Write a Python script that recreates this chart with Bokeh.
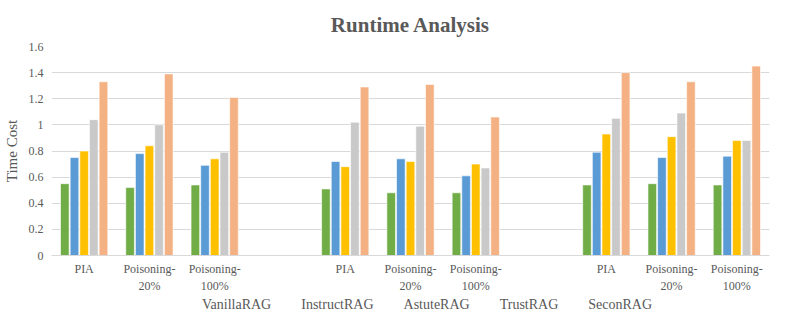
from bokeh.plotting import figure
from bokeh.models import (ColumnDataSource, FixedTicker, Legend, LegendItem, Range1d,
                          LinearAxis)
from bokeh.layouts import column
from bokeh.transform import dodge
from bokeh.embed import file_html
from bokeh.resources import INLINE

# categories (three groups of three, separated by an empty slot); two label lines each
cat_line1 = ["PIA", "Poisoning-", "Poisoning-",
             "PIA", "Poisoning-", "Poisoning-",
             "PIA", "Poisoning-", "Poisoning-"]
cat_line2 = ["", "20%", "100%", "", "20%", "100%", "", "20%", "100%"]
slots = [0, 1, 2, 4, 5, 6, 8, 9, 10]
n_slots = 11

series = ["VanillaRAG", "InstructRAG", "AstuteRAG", "TrustRAG", "SeconRAG"]
vanilla  = [0.55, 0.52, 0.54, 0.51, 0.48, 0.48, 0.54, 0.55, 0.54]
instruct = [0.75, 0.78, 0.69, 0.72, 0.74, 0.61, 0.79, 0.75, 0.76]
astute   = [0.80, 0.84, 0.74, 0.68, 0.72, 0.70, 0.93, 0.91, 0.88]
trust    = [1.04, 1.00, 0.79, 1.02, 0.99, 0.67, 1.05, 1.09, 0.88]
secon    = [1.33, 1.39, 1.21, 1.29, 1.31, 1.06, 1.40, 1.33, 1.45]
colors = ["#70AD47", "#5B9BD5", "#FFC000", "#C9C9C9", "#F4B183"]

y_ticks = [0, 0.2, 0.4, 0.6, 0.8, 1.0, 1.2, 1.4, 1.6]
y_labels = ["0", "0.2", "0.4", "0.6", "0.8", "1", "1.2", "1.4", "1.6"]

centers = [s + 0.5 for s in slots]
src = ColumnDataSource(dict(x=centers, VanillaRAG=vanilla, InstructRAG=instruct,
                            AstuteRAG=astute, TrustRAG=trust, SeconRAG=secon))

FONT = "Liberation Serif"
GREY = "#595959"

p = figure(width=781, height=295, output_backend="svg", toolbar_location=None,
           x_range=Range1d(0, n_slots), y_range=Range1d(0, 1.6),
           min_border_left=0, min_border_right=12, min_border_top=0, min_border_bottom=0)
p.outline_line_color = None

step = 0.148
bw = 0.132
for i, (name, col) in enumerate(zip(series, colors)):
    p.vbar(x=dodge("x", (i - 2) * step, range=p.x_range), top=name, width=bw,
           source=src, fill_color=col, line_color="white", line_width=0.6)

p.title.text = "Runtime Analysis"
p.title.align = "center"
p.title.text_font = FONT
p.title.text_font_size = "21px"
p.title.text_font_style = "bold"
p.title.text_color = GREY
p.title.standoff = 20

def style_axis(ax):
    ax.major_tick_line_color = None
    ax.minor_tick_line_color = None
    ax.major_tick_out = 0
    ax.major_tick_in = 0
    ax.minor_tick_out = 0
    ax.minor_tick_in = 0
    ax.major_label_text_font = FONT
    ax.major_label_text_font_size = "12px"
    ax.major_label_text_color = GREY

p.xaxis.ticker = FixedTicker(ticks=centers)
p.xaxis.major_label_overrides = {c: l for c, l in zip(centers, cat_line1)}
p.xaxis.axis_line_color = "#D9D9D9"
p.xaxis.major_label_standoff = 6
style_axis(p.xaxis[0])

ax2 = LinearAxis(ticker=FixedTicker(ticks=centers),
                 major_label_overrides={c: (l if l else " ") for c, l in zip(centers, cat_line2)})
ax2.axis_line_color = None
ax2.major_label_standoff = 0
style_axis(ax2)
p.add_layout(ax2, "below")

p.yaxis.ticker = FixedTicker(ticks=y_ticks)
p.yaxis.major_label_overrides = {t: l for t, l in zip(y_ticks, y_labels)}
style_axis(p.yaxis[0])
p.yaxis.axis_line_color = None
p.yaxis.major_label_standoff = 8
p.yaxis.axis_label = "Time Cost"
p.yaxis.axis_label_text_font = FONT
p.yaxis.axis_label_text_font_size = "15px"
p.yaxis.axis_label_text_font_style = "normal"
p.yaxis.axis_label_text_color = GREY
p.yaxis.axis_label_standoff = 6

p.xgrid.grid_line_color = None
p.ygrid.grid_line_color = "#D9D9D9"

# legend strip below the chart
lg = figure(width=781, height=18, output_backend="svg", toolbar_location=None,
            x_range=Range1d(0, 1), y_range=Range1d(0, 1),
            x_axis_type=None, y_axis_type=None,
            min_border_left=0, min_border_right=0, min_border_top=0, min_border_bottom=0)
lg.outline_line_color = None
lg.xgrid.grid_line_color = None
lg.ygrid.grid_line_color = None
items = []
for name, col in zip(series, colors):
    r = lg.vbar(x=[], top=[], width=0.1, fill_color=col, line_color=None)
    items.append(LegendItem(label=name, renderers=[r]))

legend = Legend(items=items, orientation="horizontal", location=(142, 0))
legend.label_text_font = FONT
legend.label_text_font_size = "14px"
legend.label_text_color = GREY
legend.glyph_width = 7
legend.glyph_height = 7
legend.label_height = 14
legend.spacing = 21
legend.label_standoff = 2
legend.border_line_color = None
legend.background_fill_alpha = 0
legend.padding = 0
legend.margin = 0
lg.add_layout(legend, "center")

layout = column(p, lg, spacing=0)
open("out.html", "w").write(file_html(layout, INLINE))
